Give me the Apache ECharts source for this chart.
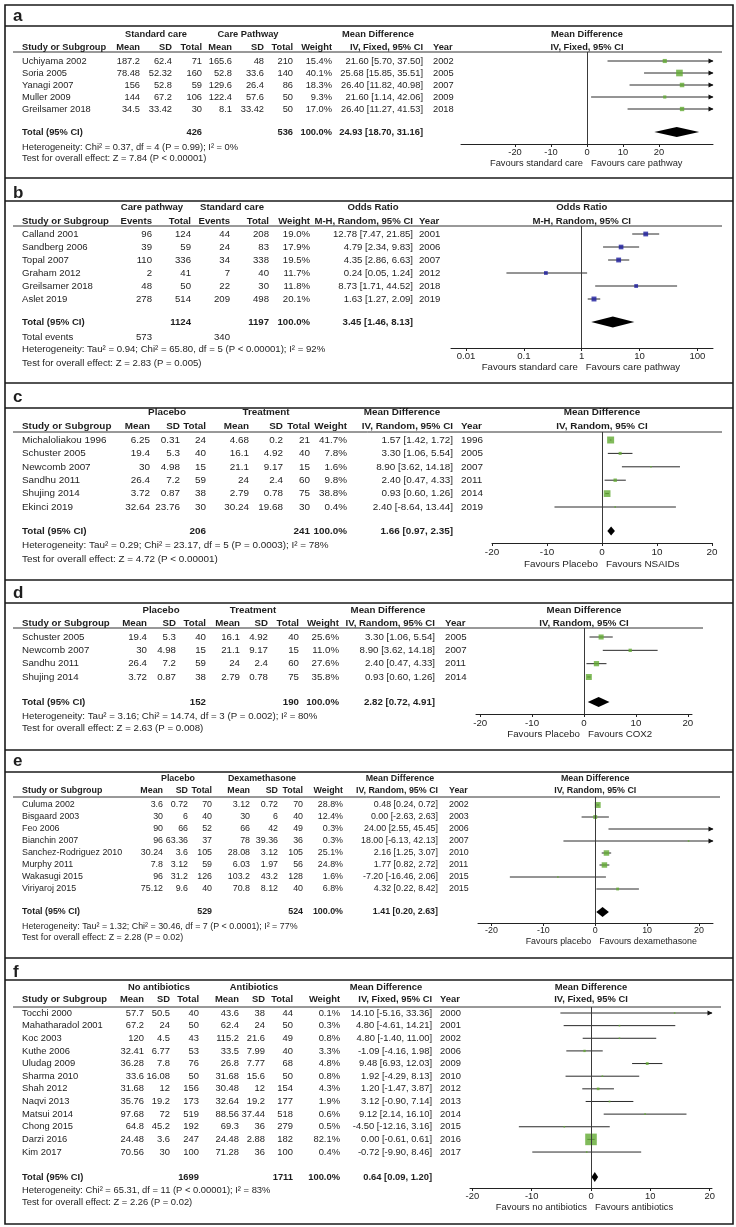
<!DOCTYPE html>
<html><head><meta charset="utf-8">
<script src="https://cdn.jsdelivr.net/npm/echarts@6/dist/echarts.min.js"></script>
<style>html,body{margin:0;padding:0;background:#fff}#c{width:736px;height:1227px}</style>
</head><body><div id="c"></div>
<script>
// ---------------- DATA ----------------
// Panel a
const aStudies = ['Uchiyama 2002','Soria 2005','Yanagi 2007','Muller 2009','Greilsamer 2018'];
const aMean1 = [187.2,78.48,156,144,34.5];
const aSD1   = [62.4,52.32,52.8,67.2,33.42];
const aN1    = [71,160,59,106,30];
const aMean2 = [165.6,52.8,129.6,122.4,8.1];
const aSD2   = [48,33.6,26.4,57.6,33.42];
const aN2    = [210,140,86,50,50];
const aWeight= [15.4,40.1,18.3,9.3,17.0];
const aEst   = [21.60,25.68,26.40,21.60,26.40];
const aLo    = [5.70,15.85,11.82,1.14,11.27];
const aHi    = [37.50,35.51,40.98,42.06,41.53];
const aYear  = [2002,2005,2007,2009,2018];
const aTotals= [426,536];
const aPooled= [24.93,18.70,31.16];
const aTicks = [-20,-10,0,10,20];
const aHet = 'Heterogeneity: Chi² = 0.37, df = 4 (P = 0.99); I² = 0%';
const aTest = 'Test for overall effect: Z = 7.84 (P < 0.00001)';

// Panel b
const bStudies = ['Calland 2001','Sandberg 2006','Topal 2007','Graham 2012','Greilsamer 2018','Aslet 2019'];
const bEv1   = [96,39,110,2,48,278];
const bN1    = [124,59,336,41,50,514];
const bEv2   = [44,24,34,7,22,209];
const bN2    = [208,83,338,40,30,498];
const bWeight= [19.0,17.9,19.5,11.7,11.8,20.1];
const bEst   = [12.78,4.79,4.35,0.24,8.73,1.63];
const bLo    = [7.47,2.34,2.86,0.05,1.71,1.27];
const bHi    = [21.85,9.83,6.63,1.24,44.52,2.09];
const bYear  = [2001,2006,2007,2012,2018,2019];
const bTotals= [1124,1197];
const bEvents= [573,340];
const bPooled= [3.45,1.46,8.13];
const bTicks = [0.01,0.1,1,10,100];
const bHet = 'Heterogeneity: Tau² = 0.94; Chi² = 65.80, df = 5 (P < 0.00001); I² = 92%';
const bTest = 'Test for overall effect: Z = 2.83 (P = 0.005)';

// Panel c
const cStudies = ['Michaloliakou 1996','Schuster 2005','Newcomb 2007','Sandhu 2011','Shujing 2014','Ekinci 2019'];
const cMean1 = [6.25,19.4,30,26.4,3.72,32.64];
const cSD1   = [0.31,5.3,4.98,7.2,0.87,23.76];
const cN1    = [24,40,15,59,38,30];
const cMean2 = [4.68,16.1,21.1,24,2.79,30.24];
const cSD2   = [0.2,4.92,9.17,2.4,0.78,19.68];
const cN2    = [21,40,15,60,75,30];
const cWeight= [41.7,7.8,1.6,9.8,38.8,0.4];
const cEst   = [1.57,3.30,8.90,2.40,0.93,2.40];
const cLo    = [1.42,1.06,3.62,0.47,0.60,-8.64];
const cHi    = [1.72,5.54,14.18,4.33,1.26,13.44];
const cYear  = [1996,2005,2007,2011,2014,2019];
const cTotals= [206,241];
const cPooled= [1.66,0.97,2.35];
const cTicks = [-20,-10,0,10,20];
const cHet = 'Heterogeneity: Tau² = 0.29; Chi² = 23.17, df = 5 (P = 0.0003); I² = 78%';
const cTest = 'Test for overall effect: Z = 4.72 (P < 0.00001)';

// Panel d
const dStudies = ['Schuster 2005','Newcomb 2007','Sandhu 2011','Shujing 2014'];
const dMean1 = [19.4,30,26.4,3.72];
const dSD1   = [5.3,4.98,7.2,0.87];
const dN1    = [40,15,59,38];
const dMean2 = [16.1,21.1,24,2.79];
const dSD2   = [4.92,9.17,2.4,0.78];
const dN2    = [40,15,60,75];
const dWeight= [25.6,11.0,27.6,35.8];
const dEst   = [3.30,8.90,2.40,0.93];
const dLo    = [1.06,3.62,0.47,0.60];
const dHi    = [5.54,14.18,4.33,1.26];
const dYear  = [2005,2007,2011,2014];
const dTotals= [152,190];
const dPooled= [2.82,0.72,4.91];
const dTicks = [-20,-10,0,10,20];
const dHet = 'Heterogeneity: Tau² = 3.16; Chi² = 14.74, df = 3 (P = 0.002); I² = 80%';
const dTest = 'Test for overall effect: Z = 2.63 (P = 0.008)';

// Panel e
const eStudies = ['Culuma 2002','Bisgaard 2003','Feo 2006','Bianchin 2007','Sanchez-Rodriguez 2010','Murphy 2011','Wakasugi 2015','Viriyaroj 2015'];
const eMean1 = [3.6,30,90,96,30.24,7.8,96,75.12];
const eSD1   = [0.72,6,66,63.36,3.6,3.12,31.2,9.6];
const eN1    = [70,40,52,37,105,59,126,40];
const eMean2 = [3.12,30,66,78,28.08,6.03,103.2,70.8];
const eSD2   = [0.72,6,42,39.36,3.12,1.97,43.2,8.12];
const eN2    = [70,40,49,36,105,56,128,40];
const eWeight= [28.8,12.4,0.3,0.3,25.1,24.8,1.6,6.8];
const eEst   = [0.48,0.00,24.00,18.00,2.16,1.77,-7.20,4.32];
const eLo    = [0.24,-2.63,2.55,-6.13,1.25,0.82,-16.46,0.22];
const eHi    = [0.72,2.63,45.45,42.13,3.07,2.72,2.06,8.42];
const eYear  = [2002,2003,2006,2007,2010,2011,2015,2015];
const eTotals= [529,524];
const ePooled= [1.41,0.20,2.63];
const eTicks = [-20,-10,0,10,20];
const eHet = 'Heterogeneity: Tau² = 1.32; Chi² = 30.46, df = 7 (P < 0.0001); I² = 77%';
const eTest = 'Test for overall effect: Z = 2.28 (P = 0.02)';

// Panel f
const fStudies = ['Tocchi 2000','Mahatharadol 2001','Koc 2003','Kuthe 2006','Uludag 2009','Sharma 2010','Shah 2012','Naqvi 2013','Matsui 2014','Chong 2015','Darzi 2016','Kim 2017'];
const fMean1 = [57.7,67.2,120,32.41,36.28,33.6,31.68,35.76,97.68,64.8,24.48,70.56];
const fSD1   = [50.5,24,4.5,6.77,7.8,16.08,12,19.2,72,45.2,3.6,30];
const fN1    = [40,50,43,53,76,50,156,173,519,192,247,100];
const fMean2 = [43.6,62.4,115.2,33.5,26.8,31.68,30.48,32.64,88.56,69.3,24.48,71.28];
const fSD2   = [38,24,21.6,7.99,7.77,15.6,12,19.2,37.44,36,2.88,36];
const fN2    = [44,50,49,40,68,50,154,177,518,279,182,100];
const fWeight= [0.1,0.3,0.8,3.3,4.8,0.8,4.3,1.9,0.6,0.5,82.1,0.4];
const fEst   = [14.10,4.80,4.80,-1.09,9.48,1.92,1.20,3.12,9.12,-4.50,0.00,-0.72];
const fLo    = [-5.16,-4.61,-1.40,-4.16,6.93,-4.29,-1.47,-0.90,2.14,-12.16,-0.61,-9.90];
const fHi    = [33.36,14.21,11.00,1.98,12.03,8.13,3.87,7.14,16.10,3.16,0.61,8.46];
const fYear  = [2000,2001,2002,2006,2009,2010,2012,2013,2014,2015,2016,2017];
const fTotals= [1699,1711];
const fPooled= [0.64,0.09,1.20];
const fTicks = [-20,-10,0,10,20];
const fHet = 'Heterogeneity: Chi² = 65.31, df = 11 (P < 0.00001); I² = 83%';
const fTest = 'Test for overall effect: Z = 2.26 (P = 0.02)';

// ---------------- STYLE / LAYOUT ----------------
const FONT = '"Liberation Sans", Arial, Helvetica, sans-serif';
const TXT = '#1e1e1e';
const GREEN = '#62aa32';
const BLUE = '#1a1a9c';

const panels = [
 {label:'a', type:'cont', studies:aStudies, cols:[aMean1,aSD1,aN1,aMean2,aSD2,aN2], weight:aWeight, est:aEst, lo:aLo, hi:aHi, year:aYear,
  totals:aTotals, pooled:aPooled, ticks:aTicks, het:aHet, test:aTest, groups:['Standard care','Care Pathway'], eff:'Mean Difference', method:'IV, Fixed, 95% CI',
  fav:['Favours standard care','Favours care pathway'], color:GREEN, ref:0, log:false,
  L:{labelY:16, h1:34, h2:47, ul:52, ulR:722, row0:61, rh:12, totY:132, hetY:147, testY:158, axY:144, favY:163, fs:9.3, lm:4,
     x:[22,140,172,202,232,264,293,332,423,433], grp:[156,248,378], fx:[461,713], xr:[-35,35], k:1.05, dh:5}},
 {label:'b', type:'bin', studies:bStudies, cols:[bEv1,bN1,bEv2,bN2], weight:bWeight, est:bEst, lo:bLo, hi:bHi, year:bYear,
  totals:bTotals, events:bEvents, pooled:bPooled, ticks:bTicks, het:bHet, test:bTest, groups:['Care pathway','Standard care'], eff:'Odds Ratio', method:'M-H, Random, 95% CI',
  fav:['Favours standard care','Favours care pathway'], color:BLUE, ref:1, log:true,
  L:{labelY:193, h1:207, h2:221, ul:226, ulR:722, row0:234, rh:13, totY:322, evY:337, hetY:349, testY:363, axY:348, favY:367, fs:9.6, lm:3,
     x:[22,152,191,230,269,310,413,419], grp:[152,232,373], fx:[451,713], xr:[0.0055,186], k:1.1, dh:5.5}},
 {label:'c', type:'cont', studies:cStudies, cols:[cMean1,cSD1,cN1,cMean2,cSD2,cN2], weight:cWeight, est:cEst, lo:cLo, hi:cHi, year:cYear,
  totals:cTotals, pooled:cPooled, ticks:cTicks, het:cHet, test:cTest, groups:['Placebo','Treatment'], eff:'Mean Difference', method:'IV, Random, 95% CI',
  fav:['Favours Placebo','Favours NSAIDs'], color:GREEN, ref:0, log:false,
  L:{labelY:397, h1:412, h2:426, ul:432, ulR:722, row0:440, rh:13.4, totY:531, hetY:545, testY:559, axY:543, favY:564, fs:9.9, lm:4,
     x:[22,150,180,206,249,283,310,347,453,461], grp:[167,266,402], fx:[492,712], xr:[-20,20], k:1.08, dh:4.5}},
 {label:'d', type:'cont', studies:dStudies, cols:[dMean1,dSD1,dN1,dMean2,dSD2,dN2], weight:dWeight, est:dEst, lo:dLo, hi:dHi, year:dYear,
  totals:dTotals, pooled:dPooled, ticks:dTicks, het:dHet, test:dTest, groups:['Placebo','Treatment'], eff:'Mean Difference', method:'IV, Random, 95% CI',
  fav:['Favours Placebo','Favours COX2'], color:GREEN, ref:0, log:false,
  L:{labelY:593, h1:610, h2:623, ul:628, ulR:703, row0:637, rh:13.33, totY:702, hetY:716, testY:728, axY:714, favY:734, fs:9.7, lm:4,
     x:[22,147,176,206,240,268,299,339,435,445], grp:[161,253,388], fx:[476,692], xr:[-20.8,20.8], k:1.0, dh:5}},
 {label:'e', type:'cont', studies:eStudies, cols:[eMean1,eSD1,eN1,eMean2,eSD2,eN2], weight:eWeight, est:eEst, lo:eLo, hi:eHi, year:eYear,
  totals:eTotals, pooled:ePooled, ticks:eTicks, het:eHet, test:eTest, groups:['Placebo','Dexamethasone'], eff:'Mean Difference', method:'IV, Random, 95% CI',
  fav:['Favours placebo','Favours dexamethasone'], color:GREEN, ref:0, log:false,
  L:{labelY:761, h1:779, h2:791, ul:797, ulR:720, row0:805, rh:12, totY:912, hetY:927, testY:938, axY:923, favY:942, fs:8.9, lm:3.5,
     x:[22,163,188,212,250,278,303,343,438,449], grp:[178,262,400], fx:[478,713], xr:[-22.6,22.7], k:1.1, dh:5}},
 {label:'f', type:'cont', studies:fStudies, cols:[fMean1,fSD1,fN1,fMean2,fSD2,fN2], weight:fWeight, est:fEst, lo:fLo, hi:fHi, year:fYear,
  totals:fTotals, pooled:fPooled, ticks:fTicks, het:fHet, test:fTest, groups:['No antibiotics','Antibiotics'], eff:'Mean Difference', method:'IV, Fixed, 95% CI',
  fav:['Favours no antibiotics','Favours antibiotics'], color:GREEN, ref:0, log:false,
  L:{labelY:972, h1:987, h2:999, ul:1007, ulR:721, row0:1013, rh:12.64, totY:1177, hetY:1190, testY:1202, axY:1188, favY:1207, fs:9.4, lm:3.5,
     x:[22,144,170,199,239,265,293,340,432,440], grp:[159,254,386], fx:[470,712], xr:[-20.4,20.4], k:1.28, dh:5}}
];

const sepLines = [26,178,201,383,408,580,603,750,772,958,980];

// ---------------- BUILD ----------------
function fmtCI(e,l,h){ return e.toFixed(2)+' ['+l.toFixed(2)+', '+h.toFixed(2)+']'; }
function T(x,y,text,fs,opt){
  opt = opt||{};
  return {type:'text', silent:true, x:x, y:y, z:10,
    style:{text:String(text), fontSize:fs, fontFamily:FONT, fontWeight:opt.bold?'bold':'normal', fill:TXT,
           align:opt.align||'left', verticalAlign:'middle'}};
}

const chart = echarts.init(document.getElementById('c'), null, {renderer:'canvas'});
const grids=[], xAxes=[], yAxes=[], series=[];

panels.forEach(function(p,i){
  const L=p.L, fs=L.fs;
  grids.push({left:L.fx[0], top:L.ul, width:L.fx[1]-L.fx[0], height:L.axY-L.ul, containLabel:false, outerBoundsMode:'none'});
  const xa = {gridIndex:i, type:p.log?'log':'value', min:L.xr[0], max:L.xr[1], position:'bottom',
    axisLine:{show:true, onZero:false, lineStyle:{color:'#222', width:1}},
    axisTick:{show:true, customValues:p.ticks, length:3, inside:false, lineStyle:{color:'#222', width:1}},
    axisLabel:{show:true, customValues:p.ticks, fontSize:fs, fontFamily:FONT, color:TXT, margin:L.lm},
    splitLine:{show:false}, minorTick:{show:false}};
  if (p.log){ xa.logBase=10; xa.axisLabel.formatter=function(v){ return String(Number(Number(v).toPrecision(2))); }; }
  xAxes.push(xa);
  yAxes.push({gridIndex:i, type:'value', inverse:true, min:(L.ul-L.row0)/L.rh, max:(L.axY-L.row0)/L.rh, show:false, splitLine:{show:false}});

  // confidence intervals
  series.push({type:'custom', xAxisIndex:i, yAxisIndex:i, silent:true, z:2, clip:false,
    encode:{x:[0,1], y:2},
    data:p.studies.map(function(s,j){ return [p.lo[j], p.hi[j], j]; }),
    renderItem:function(params, api){
      const lo=api.value(0), hi=api.value(1), r=api.value(2);
      const a=Math.max(lo, L.xr[0]), b=Math.min(hi, L.xr[1]);
      const p1=api.coord([a,r]), p2=api.coord([b,r]);
      const ch=[{type:'line', shape:{x1:p1[0],y1:p1[1],x2:p2[0],y2:p2[1]}, style:{stroke:'#2a2a2a', lineWidth:1}}];
      if (hi>L.xr[1]) ch.push({type:'polygon', shape:{points:[[p2[0]+0.5,p2[1]],[p2[0]-4.5,p2[1]-2.6],[p2[0]-4.5,p2[1]+2.6]]}, style:{fill:'#111'}});
      if (lo<L.xr[0]) ch.push({type:'polygon', shape:{points:[[p1[0]-0.5,p1[1]],[p1[0]+4.5,p1[1]-2.6],[p1[0]+4.5,p1[1]+2.6]]}, style:{fill:'#111'}});
      return {type:'group', children:ch};
    }});
  // point estimates
  series.push({type:'scatter', xAxisIndex:i, yAxisIndex:i, silent:true, z:3, symbol:'rect',
    data:p.studies.map(function(s,j){ return [p.est[j], j, p.weight[j]]; }),
    symbolSize:function(v){ return Math.max(1.6, L.k*Math.sqrt(v[2])); },
    itemStyle:{color:p.color},
    markLine:{silent:true, symbol:'none', label:{show:false}, animation:false,
      lineStyle:{color:'#3a3a3a', width:1, type:'solid'}, data:[{xAxis:p.ref}]}});
  // pooled diamond
  series.push({type:'custom', xAxisIndex:i, yAxisIndex:i, silent:true, z:4, clip:false,
    encode:{x:[0,1,2], y:3},
    data:[[p.pooled[0], p.pooled[1], p.pooled[2], (L.totY-L.row0)/L.rh]],
    renderItem:function(params, api){
      const e=api.value(0), lo=api.value(1), hi=api.value(2), r=api.value(3);
      const pl=api.coord([lo,r]), pe=api.coord([e,r]), ph=api.coord([hi,r]);
      return {type:'polygon', shape:{points:[pl,[pe[0],pe[1]-L.dh],ph,[pe[0],pe[1]+L.dh]]}, style:{fill:'#000'}};
    }});
});

chart.setOption({animation:false, backgroundColor:'#fff', grid:grids, xAxis:xAxes, yAxis:yAxes, series:series});

// ---------------- TABLE TEXT & FRAME ----------------
const G=[];
G.push({type:'rect', silent:true, z:9, shape:{x:5,y:5,width:728,height:1219}, style:{fill:'none', stroke:'#1a1a1a', lineWidth:1.6}});
sepLines.forEach(function(y){ G.push({type:'line', silent:true, z:9, shape:{x1:5,y1:y,x2:733,y2:y}, style:{stroke:'#1a1a1a', lineWidth:1.6}}); });

panels.forEach(function(p,i){
  const L=p.L, fs=L.fs, nc=p.cols.length;
  G.push(T(13, L.labelY, p.label, 17, {bold:true}));
  G.push(T(L.grp[0], L.h1, p.groups[0], fs, {bold:true, align:'center'}));
  G.push(T(L.grp[1], L.h1, p.groups[1], fs, {bold:true, align:'center'}));
  G.push(T(L.grp[2], L.h1, p.eff, fs, {bold:true, align:'center'}));
  const hdr = p.type==='cont' ? ['Study or Subgroup','Mean','SD','Total','Mean','SD','Total','Weight',p.method,'Year']
                              : ['Study or Subgroup','Events','Total','Events','Total','Weight',p.method,'Year'];
  hdr.forEach(function(h,j){ G.push(T(L.x[j], L.h2, h, fs, {bold:true, align:(j===0||j===hdr.length-1)?'left':'right'})); });
  G.push({type:'line', silent:true, z:9, shape:{x1:13,y1:L.ul,x2:L.ulR,y2:L.ul}, style:{stroke:'#333', lineWidth:1}});
  p.studies.forEach(function(s,j){
    const y=L.row0+j*L.rh;
    const cells=[s].concat(p.cols.map(function(c){ return c[j]; }), [p.weight[j].toFixed(1)+'%', fmtCI(p.est[j],p.lo[j],p.hi[j]), p.year[j]]);
    cells.forEach(function(c,k){ G.push(T(L.x[k], y, c, fs, {align:(k===0||k===cells.length-1)?'left':'right'})); });
  });
  // total row
  const ti = p.type==='cont' ? [3,6] : [2,4];
  G.push(T(L.x[0], L.totY, 'Total (95% CI)', fs, {bold:true}));
  G.push(T(L.x[ti[0]], L.totY, p.totals[0], fs, {bold:true, align:'right'}));
  G.push(T(L.x[ti[1]], L.totY, p.totals[1], fs, {bold:true, align:'right'}));
  G.push(T(L.x[nc+1], L.totY, '100.0%', fs, {bold:true, align:'right'}));
  G.push(T(L.x[nc+2], L.totY, fmtCI(p.pooled[0],p.pooled[1],p.pooled[2]), fs, {bold:true, align:'right'}));
  if (p.events){
    G.push(T(L.x[0], L.evY, 'Total events', fs));
    G.push(T(L.x[1], L.evY, p.events[0], fs, {align:'right'}));
    G.push(T(L.x[3], L.evY, p.events[1], fs, {align:'right'}));
  }
  G.push(T(L.x[0], L.hetY, p.het, fs));
  G.push(T(L.x[0], L.testY, p.test, fs));
  // forest headers and favours, positioned at the reference line via the axis scale
  const zx = chart.convertToPixel({xAxisIndex:i}, p.ref);
  G.push(T(zx, L.h1, p.eff, fs, {bold:true, align:'center'}));
  G.push(T(zx, L.h2, p.method, fs, {bold:true, align:'center'}));
  G.push(T(zx-4, L.favY, p.fav[0], fs, {align:'right'}));
  G.push(T(zx+4, L.favY, p.fav[1], fs, {align:'left'}));
});

chart.setOption({graphic:{elements:G}});
</script>
</body></html>
